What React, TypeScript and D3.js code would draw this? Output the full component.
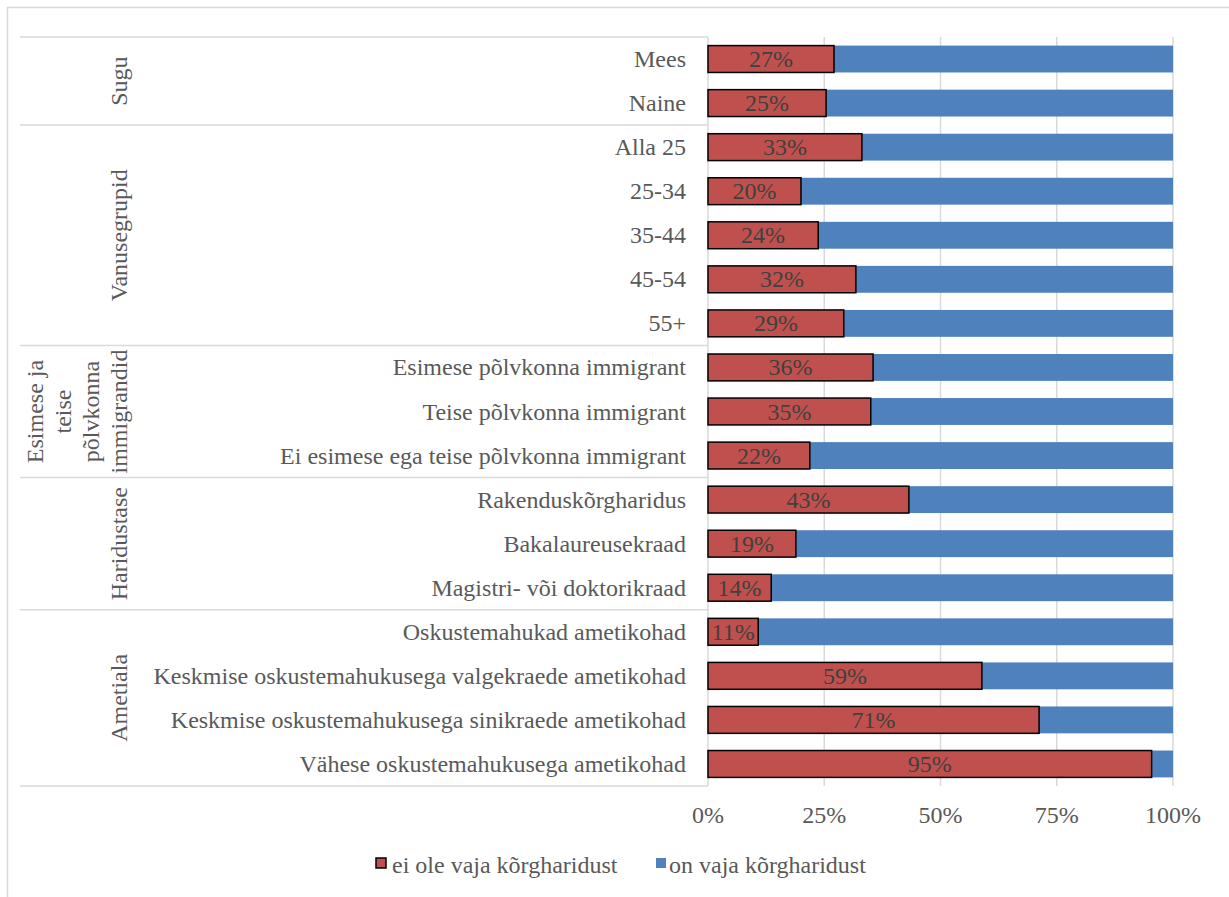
import React from "react";
import * as d3 from "d3";

const categories = [
  "Mees", "Naine",
  "Alla 25", "25-34", "35-44", "45-54", "55+",
  "Esimese põlvkonna immigrant", "Teise põlvkonna immigrant", "Ei esimese ega teise põlvkonna immigrant",
  "Rakenduskõrgharidus", "Bakalaureusekraad", "Magistri- või doktorikraad",
  "Oskustemahukad ametikohad", "Keskmise oskustemahukusega valgekraede ametikohad",
  "Keskmise oskustemahukusega sinikraede ametikohad", "Vähese oskustemahukusega ametikohad",
];
const noNeed = [27.1, 25.4, 33.1, 20.0, 23.7, 31.8, 29.2, 35.5, 35.0, 21.9, 43.2, 18.9, 13.6, 10.8, 58.9, 71.2, 95.4];
const noNeedLabels = ["27%", "25%", "33%", "20%", "24%", "32%", "29%", "36%", "35%", "22%", "43%", "19%", "14%", "11%", "59%", "71%", "95%"];
const groupNames = [["Sugu"], ["Vanusegrupid"], ["Esimese ja", "teise", "põlvkonna", "immigrandid"], ["Haridustase"], ["Ametiala"]];
const groupSizes = [2, 5, 3, 3, 4];
const ticks = [0, 25, 50, 75, 100];
const tickLabels = ["0%", "25%", "50%", "75%", "100%"];
const seriesNames = ["ei ole vaja kõrgharidust", "on vaja kõrgharidust"];

const RED = "#C0504D";
const BLUE = "#4F81BD";
const GRID = "#D9D9D9";
const TXT = "#595959";
const FONT = "'Liberation Serif', 'Times New Roman', serif";
const FS = 24;

export default function App() {
  const W = 1229, H = 897;
  const top = 37, bottom = 786, left = 708, right = 1173;
  const x = d3.scaleLinear().domain([0, 100]).range([left, right]);
  const y = d3.scaleBand<string>().domain(categories).range([top, bottom]).paddingInner(0.39).paddingOuter(0.195);
  const step = y.step();
  const bw = y.bandwidth();

  const bounds: number[] = [top];
  let acc = 0;
  groupSizes.forEach((s) => { acc += s; bounds.push(top + acc * step); });

  return (
    <svg width={W} height={H} style={{ position: "absolute", left: 0, top: 0, background: "#fff" }} fontFamily={FONT}>
      <rect x={7.5} y={7.5} width={1260} height={950} fill="#fff" stroke={GRID} strokeWidth={1.5} />
      {ticks.map((t) => (
        <line key={"g" + t} x1={x(t)} x2={x(t)} y1={top} y2={bottom} stroke={GRID} strokeWidth={1.5} />
      ))}
      {bounds.map((b, i) => (
        <line key={"b" + i} x1={20} x2={left} y1={b} y2={b} stroke={GRID} strokeWidth={1.5} />
      ))}
      {categories.map((c, i) => (
        <g key={c}>
          <rect x={x(noNeed[i])} y={y(c)!} width={x(100) - x(noNeed[i])} height={bw} fill={BLUE} />
          <rect x={x(0)} y={y(c)!} width={x(noNeed[i]) - x(0)} height={bw} fill={RED} stroke="#000" strokeWidth={1.5} />
          <text x={(x(0) + x(noNeed[i])) / 2} y={y(c)! + bw / 2 + 8} textAnchor="middle" fontSize={FS} fill="#404040">{noNeedLabels[i]}</text>
          <text x={686} y={y(c)! + bw / 2 + 8} textAnchor="end" fontSize={FS} fill={TXT}>{c}</text>
        </g>
      ))}
      {groupNames.map((lines, gi) => {
        const cy = (bounds[gi] + bounds[gi + 1]) / 2;
        const n = lines.length;
        return (
          <g key={"gl" + gi}>
            {lines.map((ln, li) => (
              <text key={li} transform={`translate(${127 - (n - 1 - li) * 28},${cy}) rotate(-90)`} textAnchor="middle" fontSize={FS} fill={TXT}>{ln}</text>
            ))}
          </g>
        );
      })}
      {ticks.map((t, i) => (
        <text key={"t" + t} x={x(t)} y={823} textAnchor="middle" fontSize={FS} fill={TXT}>{tickLabels[i]}</text>
      ))}
      <rect x={376} y={858} width={10} height={10} fill={RED} stroke="#000" strokeWidth={1.5} />
      <text x={392} y={873} fontSize={FS} fill={TXT}>{seriesNames[0]}</text>
      <rect x={656} y={858} width={10} height={10} fill={BLUE} />
      <text x={669} y={873} fontSize={FS} fill={TXT}>{seriesNames[1]}</text>
    </svg>
  );
}
